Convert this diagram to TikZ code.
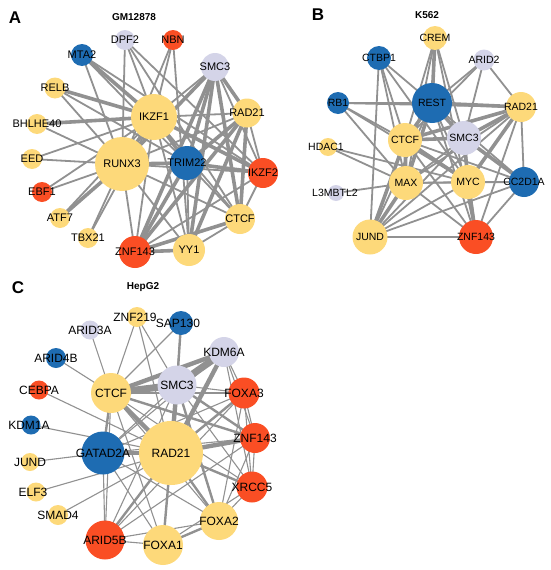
\documentclass[tikz,border=0pt]{standalone}
\usepackage{fontspec}
\setmainfont{Liberation Sans}
\usetikzlibrary{backgrounds}
\definecolor{yel}{RGB}{253,217,122}
\definecolor{red}{RGB}{250,78,36}
\definecolor{blu}{RGB}{30,108,178}
\definecolor{lav}{RGB}{212,212,232}
\definecolor{edg}{RGB}{145,145,145}
\begin{document}
\begin{tikzpicture}[x=1pt,y=-1pt,
  nd/.style={circle,inner sep=0pt,minimum size=#1},
  ethin/.style={draw=edg,line width=1.8pt},
  ethick/.style={draw=edg,line width=3.6pt},
  cthin/.style={draw=edg,line width=1.1pt},
  cmid/.style={draw=edg,line width=2.4pt},
  cthick/.style={draw=edg,line width=4.4pt},
  cvthick/.style={draw=edg,line width=7pt},
  ttl/.style={font=\bfseries\fontsize{10}{10}\selectfont},
  pletter/.style={font=\bfseries\fontsize{17}{17}\selectfont},
  labA/.style={every label/.append style={font=\fontsize{11}{11}\selectfont,inner sep=0pt}},
  labB/.style={every label/.append style={font=\fontsize{10.5}{10.5}\selectfont,inner sep=0pt}},
  labC/.style={every label/.append style={font=\fontsize{12}{12}\selectfont,inner sep=0pt}}]
\useasboundingbox (0,0) rectangle (550,570);

% ---------- Panel A ----------
\node[pletter] (la) at (15,18) {A};
\node[ttl] (ta) at (134,17) {GM12878};
\begin{scope}[labA]
\node[nd=20,fill=lav,label=center:DPF2] (aDPF2) at (125,40) {};
\node[nd=20,fill=red,label=center:NBN] (aNBN) at (173,40) {};
\node[nd=22,fill=blu,label=center:MTA2] (aMTA2) at (82,55) {};
\node[nd=28,fill=lav,label=center:SMC3] (aSMC3) at (215,67) {};
\node[nd=21,fill=yel,label=center:RELB] (aRELB) at (55,88) {};
\node[nd=46,fill=yel,label=center:IKZF1] (aIKZF1) at (154,117) {};
\node[nd=29,fill=yel,label=center:RAD21] (aRAD21) at (247,113) {};
\node[nd=20,fill=yel,label=center:BHLHE40] (aBHLHE40) at (37,124) {};
\node[nd=20,fill=yel,label=center:EED] (aEED) at (32,159) {};
\node[nd=54,fill=yel,label=center:RUNX3] (aRUNX3) at (122,164) {};
\node[nd=34,fill=blu,label=center:TRIM22] (aTRIM22) at (187,163) {};
\node[nd=30,fill=red,label=center:IKZF2] (aIKZF2) at (263,173) {};
\node[nd=20,fill=red,label=center:EBF1] (aEBF1) at (42,192) {};
\node[nd=20,fill=yel,label=center:ATF7] (aATF7) at (60,218) {};
\node[nd=30,fill=yel,label=center:CTCF] (aCTCF) at (240,219) {};
\node[nd=20,fill=yel,label=center:TBX21] (aTBX21) at (88,238) {};
\node[nd=32,fill=red,label=center:ZNF143] (aZNF143) at (135,252) {};
\node[nd=32,fill=yel,label=center:YY1] (aYY1) at (189,250) {};
\end{scope}
\begin{scope}[on background layer]
\foreach \u/\v in {DPF2/IKZF1, DPF2/RUNX3, DPF2/CTCF, DPF2/IKZF2, NBN/IKZF1, NBN/RUNX3, NBN/YY1,
  MTA2/RUNX3, MTA2/IKZF2, MTA2/TRIM22, RELB/RUNX3, RELB/TRIM22, BHLHE40/RUNX3, EED/IKZF1, EED/RUNX3,
  EBF1/IKZF1, EBF1/RUNX3, ATF7/IKZF1, TBX21/RUNX3, TBX21/IKZF1, SMC3/IKZF2, SMC3/IKZF1, RUNX3/CTCF,
  RUNX3/IKZF2, RUNX3/YY1, IKZF1/YY1, IKZF1/CTCF, TRIM22/CTCF, TRIM22/YY1, IKZF2/CTCF, IKZF2/ZNF143,
  RAD21/IKZF2, RAD21/RUNX3, RAD21/IKZF1, CTCF/YY1, IKZF1/ZNF143, RUNX3/ZNF143}
  \draw[ethin] (a\u.center) -- (a\v.center);
\foreach \u/\v in {MTA2/IKZF1, RELB/IKZF1, BHLHE40/IKZF1, ATF7/RUNX3, SMC3/RAD21, SMC3/CTCF,
  SMC3/ZNF143, SMC3/YY1, SMC3/TRIM22, SMC3/RUNX3, RAD21/CTCF, RAD21/ZNF143, RAD21/YY1, RAD21/TRIM22,
  IKZF1/RUNX3, IKZF1/IKZF2, IKZF1/TRIM22, RUNX3/TRIM22, TRIM22/ZNF143, CTCF/ZNF143, ZNF143/YY1, TRIM22/IKZF2}
  \draw[ethick] (a\u.center) -- (a\v.center);
\end{scope}

% ---------- Panel B ----------
\node[pletter] (lb) at (318,15) {B};
\node[ttl] (tb) at (427,15) {K562};
\begin{scope}[labB]
\node[nd=24,fill=yel,label=center:CREM] (bCREM) at (435,38) {};
\node[nd=24,fill=blu,label=center:CTBP1] (bCTBP1) at (379,58) {};
\node[nd=21,fill=lav,label=center:ARID2] (bARID2) at (484,60) {};
\node[nd=22,fill=blu,label=center:RB1] (bRB1) at (338,103) {};
\node[nd=40,fill=blu,label=center:REST] (bREST) at (432,103) {};
\node[nd=30,fill=yel,label=center:RAD21] (bRAD21) at (521,107) {};
\node[nd=34,fill=lav,label=center:SMC3] (bSMC3) at (464,138) {};
\node[nd=34,fill=yel,label=center:CTCF] (bCTCF) at (405,140) {};
\node[nd=18,fill=yel,label={[xshift=-2pt]center:HDAC1}] (bHDAC1) at (328,147) {};
\node[nd=34,fill=yel,label=center:MAX] (bMAX) at (406,183) {};
\node[nd=34,fill=yel,label=center:MYC] (bMYC) at (468,182) {};
\node[nd=30,fill=blu,label=center:CC2D1A] (bCC2D1A) at (524,182) {};
\node[nd=16,fill=lav,label={[xshift=-1pt]center:L3MBTL2}] (bL3MBTL2) at (336,193) {};
\node[nd=35,fill=yel,label=center:JUND] (bJUND) at (370,237) {};
\node[nd=34,fill=red,label=center:ZNF143] (bZNF143) at (476,237) {};
\end{scope}
\begin{scope}[on background layer]
\foreach \u/\v in {CREM/CTCF, CREM/SMC3, CREM/MAX, CREM/ZNF143, CTBP1/REST, CTBP1/CTCF, CTBP1/MAX,
  CTBP1/JUND, CTBP1/MYC, ARID2/REST, ARID2/RAD21, ARID2/SMC3, ARID2/CTCF, RB1/REST, RB1/RAD21, RB1/CTCF,
  RB1/MAX, RB1/MYC, HDAC1/MAX, HDAC1/MYC, L3MBTL2/MAX, REST/JUND, REST/ZNF143, REST/CC2D1A, REST/MYC,
  RAD21/CC2D1A, RAD21/ZNF143, RAD21/MAX, RAD21/JUND, SMC3/ZNF143, SMC3/JUND, CTCF/ZNF143, CTCF/CC2D1A,
  MAX/ZNF143, MAX/CC2D1A, MYC/CC2D1A, MYC/JUND, CC2D1A/ZNF143, CC2D1A/JUND, JUND/ZNF143, MAX/MYC, SMC3/MAX}
  \draw[ethin] (b\u.center) -- (b\v.center);
\foreach \u/\v in {CREM/REST, REST/RAD21, REST/SMC3, REST/CTCF, REST/MAX, RAD21/SMC3, RAD21/CTCF,
  SMC3/CTCF, SMC3/MYC, SMC3/CC2D1A, CTCF/MAX, CTCF/MYC, CTCF/JUND, MAX/JUND, MYC/ZNF143, RAD21/MYC}
  \draw[ethick] (b\u.center) -- (b\v.center);
\end{scope}

% ---------- Panel C ----------
\node[pletter] (lc) at (18,288) {C};
\node[ttl] (tc) at (143,287) {HepG2};
\begin{scope}[labC]
\node[nd=20,fill=yel,label={[xshift=-2pt]center:ZNF219}] (cZNF219) at (137,317) {};
\node[nd=24,fill=blu,label={[xshift=-3pt]center:SAP130}] (cSAP130) at (181,323) {};
\node[nd=19,fill=lav,label=center:ARID3A] (cARID3A) at (90,330) {};
\node[nd=30,fill=lav,label=center:KDM6A] (cKDM6A) at (224,352) {};
\node[nd=20,fill=blu,label=center:ARID4B] (cARID4B) at (56,358) {};
\node[nd=39,fill=lav,label=center:SMC3] (cSMC3) at (177,385) {};
\node[nd=40,fill=yel,label=center:CTCF] (cCTCF) at (111,393) {};
\node[nd=19,fill=red,label=center:CEBPA] (cCEBPA) at (39,390) {};
\node[nd=31,fill=red,label=center:FOXA3] (cFOXA3) at (244,393) {};
\node[nd=19,fill=blu,label={[xshift=-2pt]center:KDM1A}] (cKDM1A) at (31,425) {};
\node[nd=30,fill=red,label=center:ZNF143] (cZNF143) at (255,438) {};
\node[nd=43,fill=blu,label=center:GATAD2A] (cGATAD2A) at (103,453) {};
\node[nd=64,fill=yel,label=center:RAD21] (cRAD21) at (171,453) {};
\node[nd=18,fill=yel,label=center:JUND] (cJUND) at (30,462) {};
\node[nd=31,fill=red,label=center:XRCC5] (cXRCC5) at (252,487) {};
\node[nd=19,fill=yel,label={[xshift=-3pt]center:ELF3}] (cELF3) at (36,492) {};
\node[nd=20,fill=yel,label=center:SMAD4] (cSMAD4) at (58,515) {};
\node[nd=38,fill=yel,label=center:FOXA2] (cFOXA2) at (219,521) {};
\node[nd=39,fill=red,label=center:ARID5B] (cARID5B) at (105,540) {};
\node[nd=40,fill=yel,label=center:FOXA1] (cFOXA1) at (163,545) {};
\end{scope}
\begin{scope}[on background layer]
\foreach \u/\v in {ZNF219/CTCF, ZNF219/SMC3, ZNF219/RAD21, SAP130/CTCF, SAP130/RAD21, ARID3A/CTCF,
  ARID4B/CTCF, CEBPA/RAD21, KDM1A/RAD21, JUND/GATAD2A, ELF3/RAD21, SMAD4/RAD21, KDM6A/FOXA3,
  KDM6A/ZNF143, KDM6A/XRCC5, KDM6A/GATAD2A, SMC3/FOXA3, SMC3/XRCC5, SMC3/GATAD2A, SMC3/ARID5B,
  CTCF/ARID5B, CTCF/FOXA1, CTCF/FOXA2, CTCF/XRCC5, CTCF/FOXA3, GATAD2A/ARID5B, GATAD2A/FOXA1,
  GATAD2A/FOXA2, GATAD2A/ZNF143, GATAD2A/FOXA3, FOXA3/ZNF143, FOXA3/XRCC5, FOXA3/FOXA2, FOXA3/ARID5B,
  ZNF143/XRCC5, ZNF143/ARID5B, XRCC5/FOXA1, FOXA1/ARID5B, FOXA2/ARID5B, XRCC5/FOXA2, ZNF143/FOXA2}
  \draw[cthin] (c\u.center) -- (c\v.center);
\foreach \u/\v in {SAP130/SMC3, CTCF/GATAD2A, CTCF/ZNF143, SMC3/ZNF143, SMC3/FOXA2, RAD21/FOXA3,
  RAD21/XRCC5, RAD21/FOXA1, RAD21/ARID5B, RAD21/FOXA2, FOXA2/FOXA1}
  \draw[cmid] (c\u.center) -- (c\v.center);
\foreach \u/\v in {KDM6A/CTCF, KDM6A/RAD21, CTCF/RAD21, SMC3/RAD21, RAD21/GATAD2A, RAD21/ZNF143}
  \draw[cthick] (c\u.center) -- (c\v.center);
\foreach \u/\v in {KDM6A/SMC3, CTCF/SMC3}
  \draw[cvthick] (c\u.center) -- (c\v.center);
\end{scope}
\end{tikzpicture}
\end{document}
